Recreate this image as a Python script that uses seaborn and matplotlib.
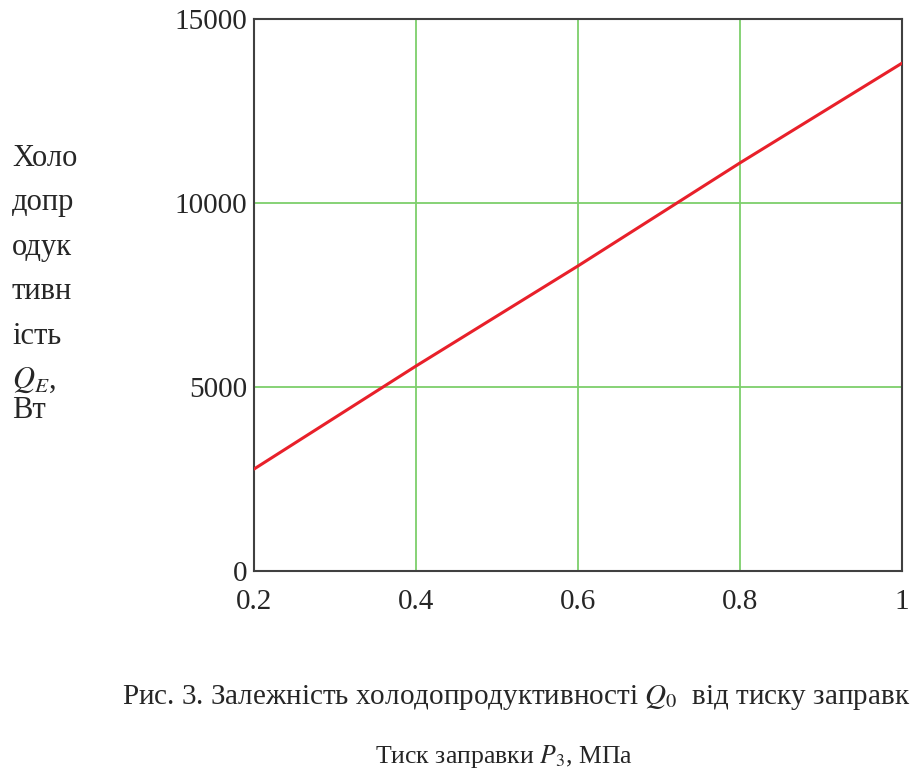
import pandas as pd
import matplotlib
matplotlib.use("Agg")
import matplotlib.pyplot as plt
import seaborn as sns

# values
pressure = [0.2, 0.4, 0.6, 0.8, 1.0]
capacity = [2770, 5570, 8290, 11090, 13800]
x_ticks = [0.2, 0.4, 0.6, 0.8, 1.0]
x_tick_labels = ["0.2", "0.4", "0.6", "0.8", "1"]
y_ticks = [0, 5000, 10000, 15000]
y_tick_labels = ["0", "5000", "10000", "15000"]

ylabel_lines = ["Холо", "допр", "одук", "тивн", "ість", "$Q_E$,", "Вт"]
caption = "Рис. 3. Залежність холодопродуктивності $Q_0$  від тиску заправк"
xlabel = "Тиск заправки $P_3$, МПа"

sns.set_style("white")
plt.rcParams['font.family'] = ['Liberation Serif', 'DejaVu Serif']
plt.rcParams['mathtext.fontset'] = 'stix'

df = pd.DataFrame({'P': pressure, 'Q': capacity})

fig = plt.figure(figsize=(9.11, 7.76), dpi=100)
ax = fig.add_axes([254 / 911, 1 - 571 / 776, 648 / 911, 552 / 776])

sns.lineplot(data=df, x='P', y='Q', ax=ax, color='#e8202a', linewidth=2.2, zorder=3)

ax.set_xlim(0.2, 1.0)
ax.set_ylim(0, 15000)
ax.set_xticks(x_ticks)
ax.set_xticklabels(x_tick_labels, fontsize=21)
ax.set_yticks(y_ticks)
ax.set_yticklabels(y_tick_labels, fontsize=21)
ax.tick_params(length=0, pad=5)
ax.tick_params(axis='x', pad=13)
ax.set_xlabel('')
ax.set_ylabel('')
ax.grid(True, color='#7dcf6b', linewidth=1.3)
for s in ax.spines.values():
	s.set_color('#404040')
	s.set_linewidth(1.5)

# stacked y label on the left
y0 = 158
for i, line in enumerate(ylabel_lines):
	yy = y0 + i * 44.5 if i < 6 else y0 + 5 * 44.5 + 30
	fig.text(12 / 911, 1 - yy / 776, line, fontsize=22, va='center', ha='left')

fig.text(122 / 911, 1 - 697 / 776, caption, fontsize=21, va='center', ha='left')
fig.text(504 / 911, 1 - 757 / 776, xlabel, fontsize=18.5, va='center', ha='center')

fig.savefig('out.png', dpi=100)
